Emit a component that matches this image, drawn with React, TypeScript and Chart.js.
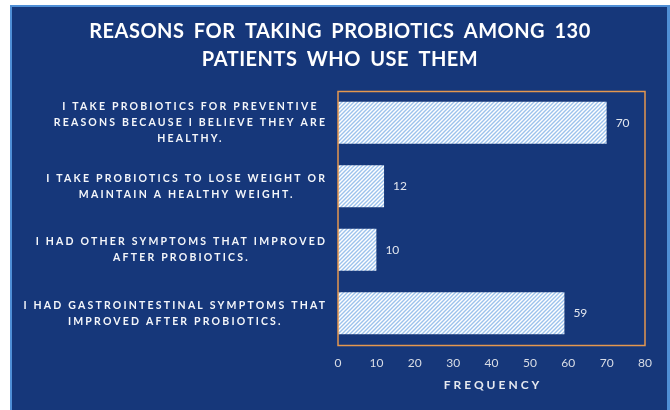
import React, { useEffect, useRef } from "react";
import { Chart, registerables } from "chart.js";

Chart.register(...registerables);

const titleLines = ["REASONS FOR TAKING PROBIOTICS AMONG 130", "PATIENTS WHO USE THEM"];
const categories: string[][] = [
  ["I TAKE PROBIOTICS FOR PREVENTIVE", "REASONS BECAUSE I BELIEVE THEY ARE", "HEALTHY."],
  ["I TAKE PROBIOTICS TO LOSE WEIGHT OR", "MAINTAIN A HEALTHY WEIGHT."],
  ["I HAD OTHER SYMPTOMS THAT IMPROVED", "AFTER PROBIOTICS."],
  ["I HAD GASTROINTESTINAL SYMPTOMS THAT", "IMPROVED AFTER PROBIOTICS."],
];
const frequencies = [70, 12, 10, 59];
const xTitle = "FREQUENCY";
const xMin = 0;
const xMax = 80;
const xStep = 10;

const FONT = "Lato, 'Open Sans', sans-serif";
const PANEL = "#16377a";

function makePattern(): CanvasPattern | string {
  const c = document.createElement("canvas");
  c.width = 4;
  c.height = 4;
  const g = c.getContext("2d");
  if (!g) return "#ffffff";
  g.fillStyle = "#ffffff";
  g.fillRect(0, 0, 4, 4);
  g.strokeStyle = "#9cc2ec";
  g.lineWidth = 1.4;
  g.beginPath();
  g.moveTo(-1, 5);
  g.lineTo(5, -1);
  g.moveTo(-1, 1);
  g.lineTo(1, -1);
  g.moveTo(3, 5);
  g.lineTo(5, 3);
  g.stroke();
  const p = g.createPattern(c, "repeat");
  return p || "#ffffff";
}

const decorPlugin = {
  id: "decor",
  beforeDraw(chart: any) {
    const ctx = chart.ctx as CanvasRenderingContext2D;
    const w = chart.width;
    const h = chart.height;
    ctx.save();
    ctx.fillStyle = "#ffffff";
    ctx.fillRect(0, 0, w, h);
    ctx.fillStyle = "#4f8fd6";
    ctx.fillRect(10, 5, 660, h);
    ctx.fillStyle = PANEL;
    ctx.fillRect(12, 7, 655, h);
    ctx.restore();
  },
  afterDatasetsDraw(chart: any) {
    const ctx = chart.ctx as CanvasRenderingContext2D;
    const a = chart.chartArea;
    ctx.save();
    ctx.strokeStyle = "#e4974f";
    ctx.lineWidth = 1.5;
    ctx.strokeRect(a.left, a.top + 0.5, a.right - a.left, a.bottom - a.top);
    // value labels
    const meta = chart.getDatasetMeta(0);
    ctx.fillStyle = "#e2e6ee";
    ctx.font = `12px ${FONT}`;
    ctx.textAlign = "left";
    ctx.textBaseline = "middle";
    meta.data.forEach((bar: any, i: number) => {
      ctx.fillText(String(frequencies[i]), bar.x + 9, bar.y);
    });
    ctx.restore();
  },
  afterDraw(chart: any) {
    const ctx = chart.ctx as any;
    const a = chart.chartArea;
    ctx.save();
    // title
    ctx.fillStyle = "#ffffff";
    ctx.font = `bold 20px ${FONT}`;
    ctx.textAlign = "center";
    ctx.textBaseline = "middle";
    ctx.letterSpacing = "0.5px";
    ctx.wordSpacing = "4px";
    ctx.fillText(titleLines[0], 340, 32);
    ctx.fillText(titleLines[1], 340, 60);
    ctx.wordSpacing = "0px";
    // y labels
    const ys = chart.scales.y;
    ctx.font = `bold 10.5px ${FONT}`;
    const ls = 2.2;
    ctx.letterSpacing = `${ls}px`;
    ctx.fillStyle = "#f4f6fa";
    const lh = 16;
    const right = 325;
    categories.forEach((lines, i) => {
      const cy = ys.getPixelForValue(i);
      let maxW = 0;
      lines.forEach((l) => {
        maxW = Math.max(maxW, ctx.measureText(l).width - ls);
      });
      const cx = right - maxW / 2;
      const y0 = cy - ((lines.length - 1) * lh) / 2;
      lines.forEach((l, j) => {
        ctx.fillText(l, cx + ls / 2, y0 + j * lh);
      });
    });
    // x title
    ctx.font = `bold 12px ${FONT}`;
    ctx.letterSpacing = "3px";
    ctx.fillStyle = "#e6e9f0";
    ctx.fillText(xTitle, (a.left + a.right) / 2 + 1.5, 385);
    ctx.letterSpacing = "0px";
    ctx.restore();
  },
};

export default function App() {
  const ref = useRef<HTMLCanvasElement>(null);
  useEffect(() => {
    document.body.style.margin = "0";
    if (!ref.current) return;
    const chart = new Chart(ref.current, {
      type: "bar",
      data: {
        labels: categories.map((c) => c.join(" ")),
        datasets: [
          {
            data: frequencies,
            backgroundColor: makePattern() as any,
            borderWidth: 0,
            barPercentage: 0.66,
            categoryPercentage: 1,
          },
        ],
      },
      options: {
        indexAxis: "y",
        animation: false,
        responsive: false,
        devicePixelRatio: 1,
        layout: { padding: { left: 338, right: 25, top: 91, bottom: 0 } },
        plugins: {
          legend: { display: false },
          tooltip: { enabled: false },
          title: { display: false },
        },
        scales: {
          y: { display: false },
          x: {
            min: xMin,
            max: xMax,
            grid: { display: false, drawTicks: false },
            border: { display: false },
            ticks: {
              stepSize: xStep,
              padding: 11,
              color: "#d9dde6",
              font: { family: FONT, size: 12 },
            },
            afterFit: (scale: any) => {
              scale.height = 65;
            },
          },
        },
      },
      plugins: [decorPlugin],
    });
    return () => chart.destroy();
  }, []);
  return (
    <div style={{ width: 670, height: 410 }}>
      <canvas ref={ref} width={670} height={410} style={{ display: "block" }} />
    </div>
  );
}
